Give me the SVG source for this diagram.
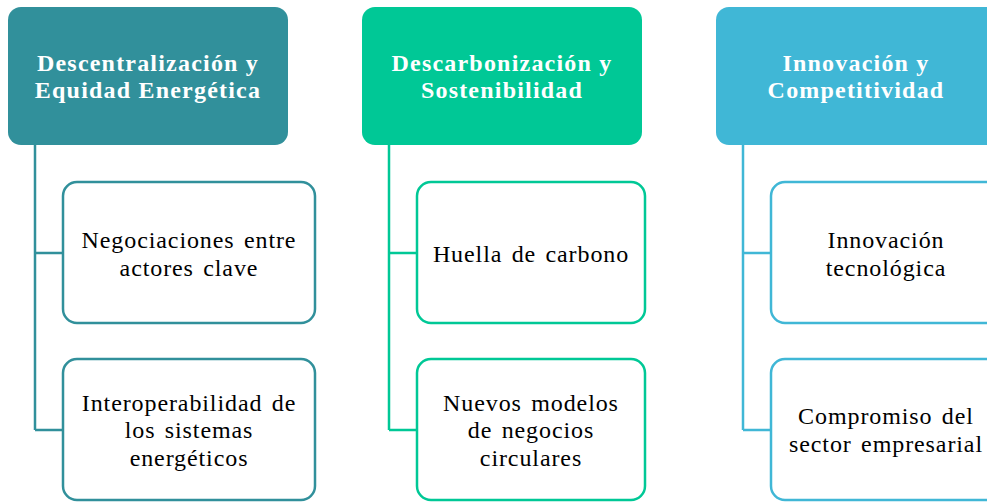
<svg xmlns="http://www.w3.org/2000/svg" width="987" height="502" viewBox="0 0 987 502">
<style>
.h{font-family:"Liberation Serif","Times New Roman",serif;font-weight:bold;font-size:24px;letter-spacing:1.2px;fill:#fff;text-anchor:middle}
.t{font-family:"Liberation Serif","Times New Roman",serif;font-size:24px;letter-spacing:0.9px;word-spacing:2.5px;fill:#000;text-anchor:middle}
.c{fill:#fff;stroke-width:2.5}
.l{fill:none;stroke-width:2.5}
</style>
<rect width="987" height="502" fill="#fff"/>
<g id="connectors">
<path class="l" stroke="#31909B" d="M35,145 V430 M35,253 H63 M35,430 H63"/>
<path class="l" stroke="#00C896" d="M389,145 V430 M389,253 H417 M389,430 H417"/>
<path class="l" stroke="#40B7D6" d="M743,145 V430 M743,253 H771 M743,430 H771"/>
</g>
<g id="h1"><rect x="8" y="7" width="280" height="138" rx="13" fill="#31909B"/>
<text class="h" x="148" y="71">Descentralización y</text><text class="h" x="148" y="98">Equidad Energética</text></g>
<g id="h2"><rect x="362" y="7" width="280" height="138" rx="13" fill="#00C896"/>
<text class="h" x="502" y="71">Descarbonización y</text><text class="h" x="502" y="98">Sostenibilidad</text></g>
<g id="h3"><rect x="716" y="7" width="290" height="138" rx="13" fill="#40B7D6"/>
<text class="h" x="856" y="71">Innovación y</text><text class="h" x="856" y="98">Competitividad</text></g>
<g id="n1a"><rect class="c" x="63" y="182" width="252" height="141" rx="14" stroke="#31909B"/>
<text class="t" x="189" y="248">Negociaciones entre</text><text class="t" x="189" y="276">actores clave</text></g>
<g id="n1b"><rect class="c" x="63" y="359" width="252" height="141" rx="14" stroke="#31909B"/>
<text class="t" x="189" y="411">Interoperabilidad de</text><text class="t" x="189" y="438">los sistemas</text><text class="t" x="189" y="466">energéticos</text></g>
<g id="n2a"><rect class="c" x="417" y="182" width="228" height="141" rx="14" stroke="#00C896"/>
<text class="t" x="531" y="262">Huella de carbono</text></g>
<g id="n2b"><rect class="c" x="417" y="359" width="228" height="141" rx="14" stroke="#00C896"/>
<text class="t" x="531" y="411">Nuevos modelos</text><text class="t" x="531" y="438">de negocios</text><text class="t" x="531" y="466">circulares</text></g>
<g id="n3a"><rect class="c" x="771" y="182" width="252" height="141" rx="14" stroke="#40B7D6"/>
<text class="t" x="886" y="248">Innovación</text><text class="t" x="886" y="276">tecnológica</text></g>
<g id="n3b"><rect class="c" x="771" y="359" width="252" height="141" rx="14" stroke="#40B7D6"/>
<text class="t" x="886" y="424">Compromiso del</text><text class="t" x="886" y="452">sector empresarial</text></g>
</svg>
